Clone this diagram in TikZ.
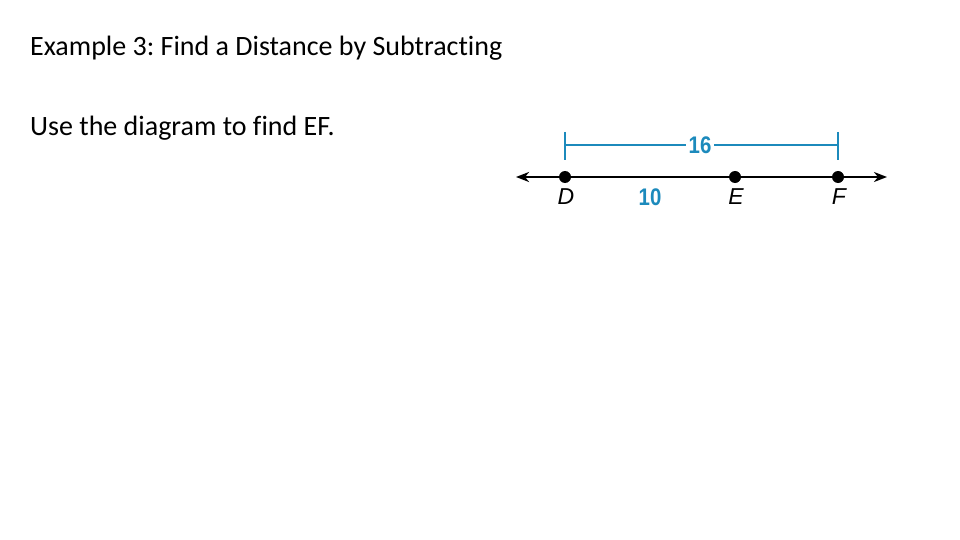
\documentclass[tikz,border=0pt]{standalone}
\usepackage{fontspec}
\setmainfont[Ligatures=NoCommon]{Carlito}
\newfontfamily\lblfont{Liberation Sans}
\usetikzlibrary{arrows.meta,positioning}
\definecolor{dimblue}{RGB}{28,138,188}
\tikzset{
  pt/.style={circle,fill=black,inner sep=0pt,minimum size=12pt},
  ptlabel/.style={font=\lblfont\itshape\fontsize{23}{23}\selectfont},
  dimlabel/.style={font=\lblfont\bfseries\fontsize{24}{24}\selectfont,text=dimblue,xscale=0.85},
  headtext/.style={anchor=base west,font=\fontsize{28}{32}\selectfont}
}
\frenchspacing
\begin{document}
\begin{tikzpicture}[x=1pt,y=1pt,>=Stealth, line join=round]
	\useasboundingbox (0,0) rectangle (960,-540);
	% texts
	\node[headtext,inner sep=0pt] (title) at (30,-56) {Example 3: Find a Distance by Subtracting};
	\node[headtext,inner sep=0pt] (task) at (30,-136) {Use the diagram to find EF.};
	% the line
	\node[pt] (D) at (565,-177) {};
	\node[pt] (E) at (735,-177) {};
	\node[pt] (F) at (838,-177) {};
	\coordinate (left) at (516,-177);
	\coordinate (right) at (887,-177);
	\draw[line width=2.8pt,<->,>={Stealth[length=13pt,width=10pt,inset=4pt]}] (left)--(right);
	\node[ptlabel] (lD) at (566,-197) {D};
	\node[ptlabel] (lE) at (736,-197) {E};
	\node[ptlabel] (lF) at (839,-197) {F};
	\node[dimlabel] (ten) at (650,-197) {10};
	% dimension
	\coordinate (dtop) at (565,-132);
	\coordinate (dbot) at (565,-160);
	\coordinate (ftop) at (838,-132);
	\coordinate (fbot) at (838,-160);
	\node[dimlabel,inner sep=3pt] (sixteen) at (700,-145) {16};
	\draw[dimblue,line width=1.5pt] (dtop)--(dbot) (ftop)--(fbot);
	\draw[dimblue,line width=1.5pt] (565,-145)--(sixteen.west) (sixteen.east)--(838,-145);
\end{tikzpicture}
\end{document}
